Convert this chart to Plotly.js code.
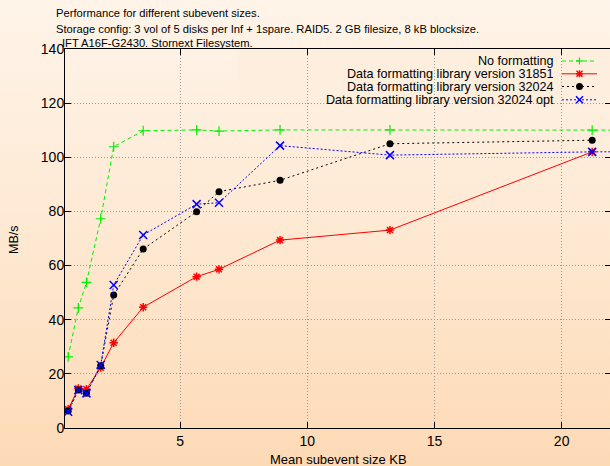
<!DOCTYPE html>
<html><head><meta charset="utf-8">
<script src="https://cdn.plot.ly/plotly-3.0.1.min.js"></script>
<style>
html,body{margin:0;padding:0;overflow:hidden;width:610px;height:466px;}
body{background:linear-gradient(to bottom,#fff4e9 0%,#feead5 45%,#fddab6 100%);}
#chart{width:612px;height:466px;}
</style></head><body><div id="chart"></div>
<script>
// ---- data ----
const xNoFmt = [0.6, 1.0, 1.32, 1.88, 2.39, 3.55, 5.65, 6.53, 8.93, 13.25, 21.2, 30];
const yNoFmt = [26.3, 44.4, 53.8, 77.3, 103.9, 109.8, 110.1, 109.7, 110.1, 110.1, 110.0, 110.0];
const x31851 = [0.6, 1.0, 1.32, 1.88, 2.39, 3.55, 5.65, 6.53, 8.93, 13.25, 21.2];
const y31851 = [6.9, 14.6, 14.3, 22.3, 31.5, 44.6, 55.9, 58.6, 69.4, 73.1, 102.0];
const x32024 = [0.6, 1.0, 1.32, 1.88, 2.39, 3.55, 5.65, 6.53, 8.93, 13.25, 21.2];
const y32024 = [6.3, 14.0, 12.8, 23.0, 49.1, 66.1, 79.9, 87.3, 91.5, 105.0, 106.3];
const xOpt = [0.6, 1.0, 1.32, 1.88, 2.39, 3.55, 5.65, 6.53, 8.93, 13.25, 21.2, 30];
const yOpt = [6.0, 14.0, 12.8, 23.3, 52.8, 71.3, 82.7, 83.2, 104.3, 100.8, 102.0, 102.4];
const seriesNames = ["No formatting", "Data formatting library version 31851",
  "Data formatting library version 32024", "Data formatting library version 32024 opt"];
const titleLines = ["Performance for different subevent sizes.",
  "Storage config: 3 vol of 5 disks per Inf + 1spare. RAID5. 2 GB filesize, 8 kB blocksize.",
  "IFT A16F-G2430. Stornext Filesystem."];
const xTicks = [5, 10, 15, 20];
const yTicks = [0, 20, 40, 60, 80, 100, 120, 140];

// ---- geometry ----
const W = 612, H = 466, L = 65, T = 49, R = 611, B = 428;
const FONT = "Liberation Sans, Arial, sans-serif";
const px = x => (x - L) / (R - L);
const py = y => (B - y) / (B - T);

const styles = [
  {color: "#00f000", dash: "4px,3px", symbol: "cross-thin-open", size: 7, mlw: 1.2},
  {color: "#ff0000", dash: "solid", symbol: "asterisk-open", size: 7, mlw: 1.5},
  {color: "#000000", dash: "2px,3px", symbol: "circle", size: 7, mlw: 0},
  {color: "#0000ff", dash: "2px,2px", symbol: "x-thin-open", size: 8, mlw: 1.5}
];
const xs = [xNoFmt, x31851, x32024, xOpt];
const ys = [yNoFmt, y31851, y32024, yOpt];

const traces = xs.map((x, i) => ({
  type: "scatter", mode: "lines+markers", x: x, y: ys[i], name: seriesNames[i],
  line: {color: styles[i].color, width: 1, dash: styles[i].dash},
  marker: {symbol: styles[i].symbol, size: styles[i].size, color: styles[i].color,
           line: {color: styles[i].color, width: styles[i].mlw}},
  cliponaxis: true, showlegend: false
}));

// ---- manual gnuplot-style legend ----
const rows = [61, 73.8, 86.5, 99.8];
const shapes = [{type: "rect", xref: "paper", yref: "paper", x0: px(237), x1: 1, y0: py(107), y1: py(50),
  fillcolor: "#feeedd", line: {width: 0}, layer: "between"}];
const annotations = [];
rows.forEach((ry, i) => {
  const s = styles[i];
  annotations.push({xref: "paper", yref: "paper", x: px(555), y: py(ry), xanchor: "right", yanchor: "middle",
    text: seriesNames[i], showarrow: false, borderpad: 0, font: {family: FONT, size: 12.6, color: "#000"}});
  shapes.push({type: "line", xref: "paper", yref: "paper", x0: px(562), x1: px(597), y0: py(ry), y1: py(ry),
    line: {color: s.color, width: 1, dash: s.dash}});
  const cx = px(579.5), cy = py(ry);
  const seg = (x0, y0, x1, y1, w) => shapes.push({type: "line", xref: "paper", yref: "paper",
    xsizemode: "pixel", ysizemode: "pixel", xanchor: cx, yanchor: cy, x0: x0, x1: x1, y0: y0, y1: y1,
    line: {color: s.color, width: w}});
  if (i === 0) { seg(-3.5, 0, 3.5, 0, 1.2); seg(0, -3.5, 0, 3.5, 1.2); }
  if (i === 1) { seg(-3.5, 0, 3.5, 0, 1.5); seg(0, -3.5, 0, 3.5, 1.5); seg(-3, -3, 3, 3, 1.5); seg(-3, 3, 3, -3, 1.5); }
  if (i === 2) shapes.push({type: "circle", xref: "paper", yref: "paper", xsizemode: "pixel", ysizemode: "pixel",
    xanchor: cx, yanchor: cy, x0: -3.5, x1: 3.5, y0: -3.5, y1: 3.5, fillcolor: "#000", line: {width: 0}});
  if (i === 3) { seg(-3.5, -3.5, 3.5, 3.5, 1.5); seg(-3.5, 3.5, 3.5, -3.5, 1.5); }
});

// ---- titles ----
const titleY = [13, 29, 43], titleX = [56, 56, 62];
titleLines.forEach((t, i) => annotations.push({xref: "paper", yref: "paper", x: px(titleX[i] - 1), y: py(titleY[i]),
  xanchor: "left", yanchor: "middle", text: t, showarrow: false, borderpad: 0,
  font: {family: FONT, size: 11.2, color: "#000"}}));
annotations.push({xref: "paper", yref: "paper", x: px(14), y: py(240), textangle: -90, xanchor: "center", yanchor: "middle",
  text: "MB/s", showarrow: false, font: {family: FONT, size: 12.5, color: "#000"}});
annotations.push({xref: "paper", yref: "paper", x: px(338), y: py(459), xanchor: "center", yanchor: "middle",
  text: "Mean subevent size KB", showarrow: false, font: {family: FONT, size: 13, color: "#000"}});

const axisCommon = {
  ticks: "inside", ticklen: 6, tickwidth: 1, tickcolor: "#000",
  showline: true, linecolor: "#000", linewidth: 1, mirror: "ticks",
  showgrid: true, gridcolor: "#999999", gridwidth: 1, griddash: "1px,2px",
  zeroline: false, tickfont: {family: FONT, size: 14, color: "#000"}, fixedrange: true
};

const layout = {
  width: W, height: H, margin: {l: L, r: W - R, t: T, b: H - B, pad: 0},
  paper_bgcolor: "rgba(0,0,0,0)", plot_bgcolor: "rgba(0,0,0,0)",
  showlegend: false,
  xaxis: Object.assign({}, axisCommon, {range: [0.476, 21.94], tickmode: "array", tickvals: xTicks,
    ticktext: xTicks.map(String)}),
  yaxis: Object.assign({}, axisCommon, {range: [0, 140], tickmode: "array", tickvals: yTicks,
    ticktext: yTicks.map(String), ticklabelstandoff: -3}),
  shapes: shapes, annotations: annotations
};

Plotly.newPlot("chart", traces, layout, {staticPlot: true, displayModeBar: false});
</script></body></html>
